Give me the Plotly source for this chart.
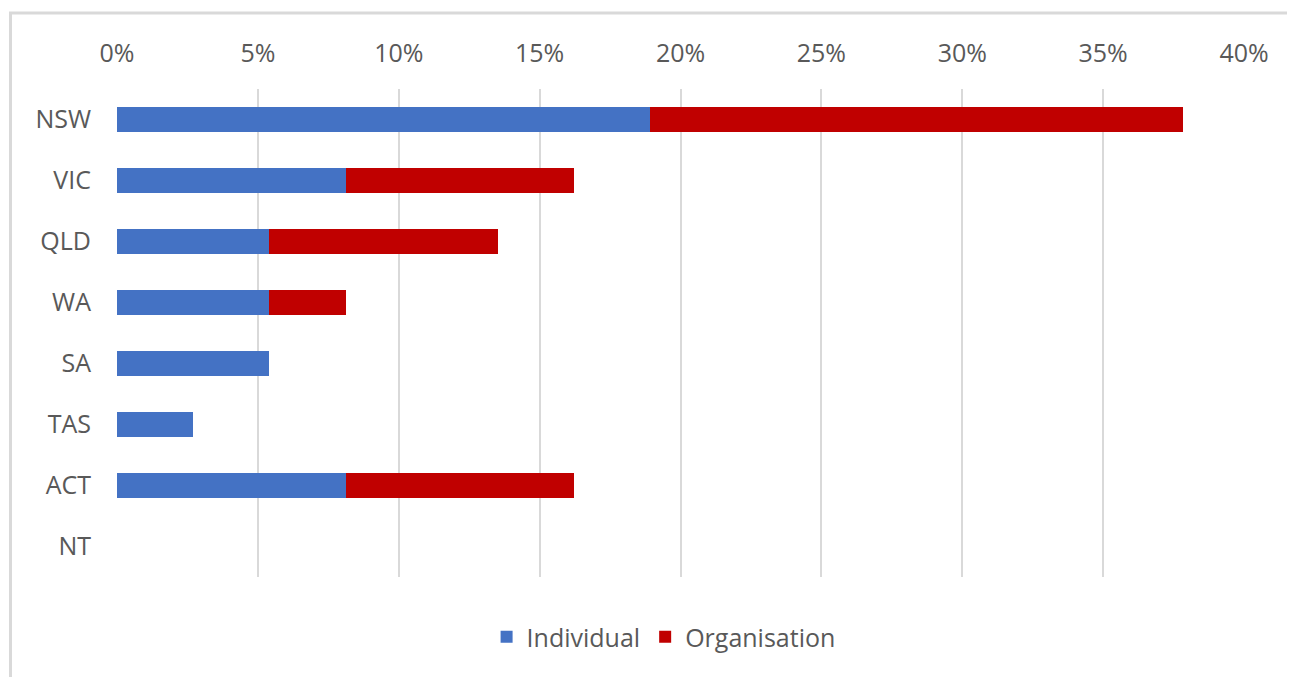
import plotly.graph_objects as go

states = ["NSW", "VIC", "QLD", "WA", "SA", "TAS", "ACT", "NT"]
individual = [0.1892, 0.0811, 0.0541, 0.0541, 0.0541, 0.0270, 0.0811, 0.0]
organisation = [0.1892, 0.0811, 0.0811, 0.0270, 0.0, 0.0, 0.0811, 0.0]
x_ticks = [0, 0.05, 0.10, 0.15, 0.20, 0.25, 0.30, 0.35, 0.40]
x_tick_labels = ["0%", "5%", "10%", "15%", "20%", "25%", "30%", "35%", "40%"]

FONT = "Open Sans"
GREY = "#595959"
FS = 25

fig = go.Figure()
fig.add_trace(go.Bar(y=states, x=individual, orientation="h", name="Individual",
                     marker=dict(color="#4472C4", line=dict(width=0))))
fig.add_trace(go.Bar(y=states, x=organisation, orientation="h", name="Organisation",
                     marker=dict(color="#C00000", line=dict(width=0))))

fig.update_layout(
    barmode="stack",
    bargap=0.6,
    width=1295, height=677,
    margin=dict(l=109, r=59, t=81, b=108, autoexpand=False),
    paper_bgcolor="white", plot_bgcolor="white",
    font=dict(family=FONT, size=FS, color=GREY),
    showlegend=True,
    legend=dict(orientation="h", x=0.485, xanchor="center", y=-0.123, yanchor="middle",
                font=dict(family=FONT, size=FS, color=GREY), traceorder="normal",
                itemwidth=30),
    xaxis=dict(side="top", range=[0, 0.4], tickvals=x_ticks, ticktext=x_tick_labels,
               showgrid=True, gridcolor="#d9d9d9", gridwidth=2, zeroline=False,
               showline=False, ticks="", ticklabelstandoff=21),
    yaxis=dict(categoryorder="array", categoryarray=states, autorange="reversed",
               showgrid=False, zeroline=False, showline=False, ticks="",
               ticklabelstandoff=25),
    shapes=[dict(type="rect", xref="paper", yref="paper",
                 x0=-0.0945, x1=1.3, y0=-0.4, y1=1.1557,
                 line=dict(color="#d9d9d9", width=3), fillcolor="rgba(0,0,0,0)",
                 layer="below")],
)

fig.write_html("out.html")
